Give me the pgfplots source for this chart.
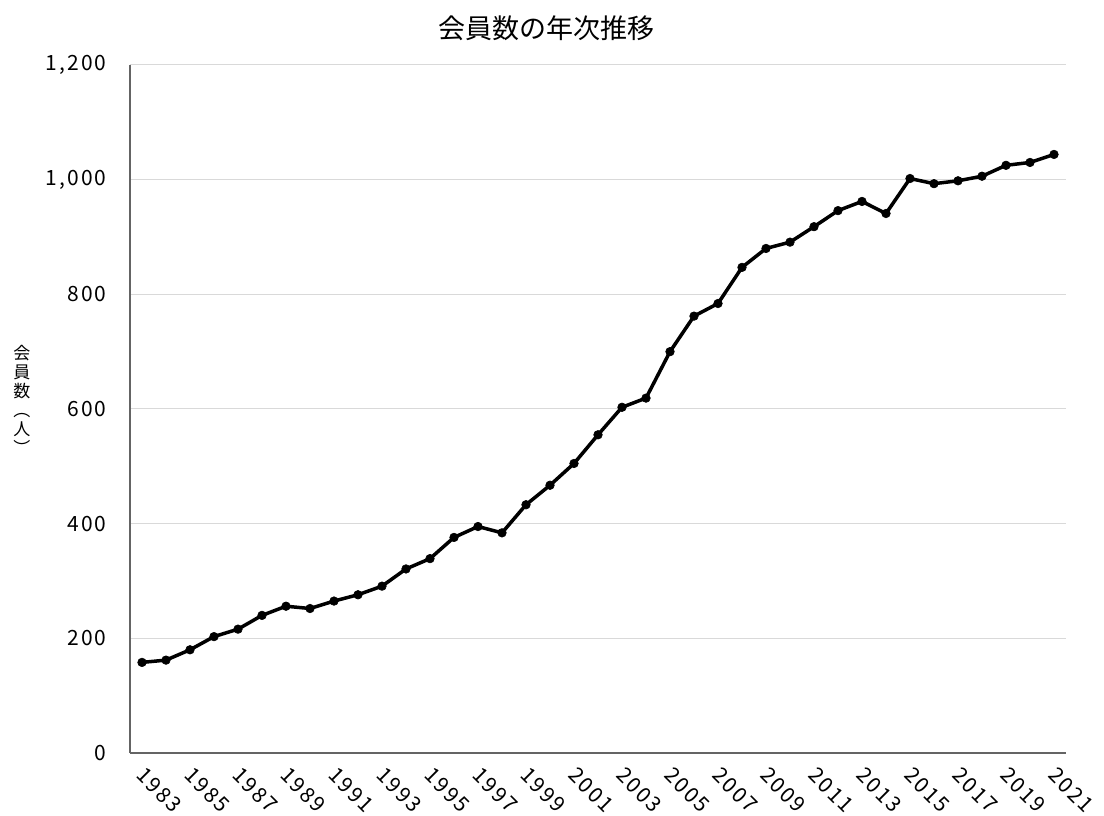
\documentclass[border=0pt]{standalone}
\usepackage{fontspec}
\setmainfont{Noto Sans CJK JP}
\newfontfamily\numfont[LetterSpace=10]{Noto Sans CJK JP}
\usepackage{pgfplots}
\pgfplotsset{compat=1.18}
\definecolor{gridgray}{RGB}{217,217,217}
\definecolor{axgray}{RGB}{100,100,100}
\begin{document}
\begin{tikzpicture}
\begin{axis}[
  name=ax,
  scale only axis,
  width=936pt, height=688pt,
  xmin=1982.5, xmax=2021.5,
  ymin=0, ymax=1200,
  ytick={0,200,...,1200},
  xtick={1983,1985,...,2021},
  xticklabels={1983,1985,1987,1989,1991,1993,1995,1997,1999,2001,2003,2005,2007,2009,2011,2013,2015,2017,2019,2021},
  axis x line*=bottom, axis y line*=left,
  axis line style={draw=axgray, line width=1.3pt, -},
  major tick length=0pt,
  ymajorgrids, grid style={draw=gridgray, line width=1pt},
  /pgf/number format/assume math mode=true,
  /pgf/number format/1000 sep={,},
  yticklabel style={font=\numfont\fontsize{21}{24}\selectfont, xshift=-20pt},
  xticklabel style={font=\numfont\fontsize{21}{24}\selectfont, yshift=-8pt, xshift=4pt, rotate=-45, anchor=north west},
]
\addplot[black, line width=3.5pt, line join=round, mark=*, mark size=4.3pt, mark options={solid, fill=black, draw=black, line width=0.6pt}]
coordinates {
(1983,158) (1984,162) (1985,180) (1986,203) (1987,216) (1988,240) (1989,256) (1990,252)
(1991,265) (1992,276) (1993,291) (1994,321) (1995,339) (1996,376) (1997,395) (1998,384)
(1999,433) (2000,467) (2001,505) (2002,555) (2003,603) (2004,619) (2005,700) (2006,762)
(2007,784) (2008,847) (2009,880) (2010,891) (2011,918) (2012,946) (2013,962) (2014,941)
(2015,1002) (2016,993) (2017,998) (2018,1006) (2019,1025) (2020,1030) (2021,1044)
};
\end{axis}
\node[font=\fontsize{27}{30}\selectfont] at ([xshift=416pt,yshift=725pt]ax.south west) {会員数の年次推移};
\node[font=\fontsize{17}{18}\selectfont, align=center, inner sep=0pt] at ([xshift=-108pt,yshift=353pt]ax.south west)
  {会\\[1pt]員\\[1pt]数\\[1pt]︵\\[1pt]人\\[1pt]︶};
\pgfresetboundingbox
\path[use as bounding box] ([xshift=-130pt,yshift=-63pt]ax.south west) rectangle ([xshift=974pt,yshift=753pt]ax.south west);
\end{tikzpicture}
\end{document}
